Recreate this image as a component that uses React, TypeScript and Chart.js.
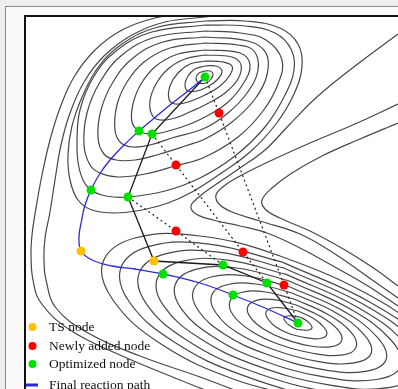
import React, { useEffect, useRef } from 'react';
import { Chart, registerables } from 'chart.js';
Chart.register(...registerables);

type P = [number, number];

// Nodes (plot coordinates)
const tsNodes: P[] = [[81, 251], [154, 261]];
const newNodes: P[] = [[219, 113], [176, 165], [176, 231], [243, 252], [284, 285]];
const optNodes: P[] = [[205, 77], [139, 131], [152, 134], [91, 190], [128, 197], [223, 265], [267, 283], [233, 295], [163, 274], [298, 323]];

// Paths
const finalPath: P[] = [[205, 77], [188, 91], [170, 105], [152, 120], [139, 131], [124, 145], [110, 160], [99, 175], [91, 190], [85, 205], [81.5, 221], [79, 237], [81, 251], [92, 260], [112, 266], [135, 269], [163, 274], [200, 283], [233, 295], [265, 308], [298, 323]];
const stringPath: P[] = [[205, 77], [152, 134], [128, 197], [154, 261], [223, 265], [267, 283], [298, 323]];
const dottedA: P[] = [[205, 77], [219, 113], [284, 285], [298, 323]];
const dottedB: P[] = [[152, 134], [176, 165], [243, 252], [267, 283]];
const dottedC: P[] = [[128, 197], [176, 231], [223, 265]];

// Contour lines of the upper basin
const c1: P[] = [[205, 71], [199, 73], [196, 78], [199, 83], [206, 83], [211, 79], [213, 74], [210, 71], [205, 71]];
const c2: P[] = [[205, 66], [195, 69], [188, 76], [185, 85], [188, 91], [197, 91], [209, 86], [218, 79], [222, 71], [216, 66], [205, 66]];
const c3: P[] = [[205, 61], [190, 64], [178, 73], [170, 86], [169, 99], [175, 104], [188, 102], [205, 95], [220, 86], [230, 75], [232, 66], [223, 62], [205, 61]];
const c4: P[] = [[205, 55], [185, 59], [168, 69], [156, 84], [150, 101], [152, 115], [160, 120], [175, 118], [192, 111], [205, 105], [225, 93], [238, 79], [241, 65], [232, 57], [205, 55]];
const c5: P[] = [[205, 50], [178, 54], [156, 66], [141, 84], [133, 104], [132, 122], [139, 131], [152, 134], [172, 130], [190, 124], [205, 117], [227, 103], [243, 84], [250, 65], [240, 53], [205, 50]];
const c6: P[] = [[205, 43], [170, 48], [144, 62], [127, 82], [117, 105], [115, 130], [121, 143], [133, 147], [150, 145], [172, 138], [205, 128], [228, 113], [247, 93], [258, 70], [254, 51], [238, 45], [205, 43]];
const c7: P[] = [[205, 37], [163, 42], [133, 58], [113, 82], [101, 110], [98, 138], [104, 154], [116, 160], [135, 160], [160, 154], [185, 146], [205, 139], [232, 122], [255, 99], [267, 75], [266, 53], [248, 41], [205, 37]];
const c8: P[] = [[205, 31], [156, 37], [122, 55], [100, 82], [87, 113], [84, 145], [90, 165], [100, 173], [118, 177], [145, 174], [175, 166], [205, 157], [238, 137], [263, 111], [278, 84], [282, 60], [266, 40], [240, 33], [205, 31]];
const c9: P[] = [[205, 25], [152, 32], [116, 51], [93, 78], [80, 110], [77, 140], [78, 162], [83, 180], [91, 190], [106, 196], [128, 197], [165, 191], [200, 178], [235, 156], [265, 127], [284, 97], [294, 70], [291, 49], [275, 33], [245, 26], [205, 25]];
const c10: P[] = [[205, 21], [158, 27], [122, 44], [99, 66], [83, 95], [72, 126], [68, 155], [70, 180], [78, 200], [92, 210], [115, 213], [142, 210], [168, 203], [192, 192], [220, 174], [250, 152], [276, 124], [294, 94], [302, 66], [298, 44], [280, 28], [245, 21], [205, 21]];

// Contour lines of the lower basin
const d1: P[] = [[300, 317], [307, 321], [311, 325], [312, 328], [309, 330], [303, 330], [296, 329], [289, 325], [285, 321], [284, 318], [287, 316], [293, 316], [300, 317]];
const d2: P[] = [[298, 311], [314.4, 318.9], [324.1, 327.5], [326.7, 334.7], [320.1, 338.5], [307.4, 337.9], [290, 334], [276, 327], [268, 319], [266, 312], [272, 308], [283, 308], [298, 311]];
const d3: P[] = [[296, 305], [321.2, 316.7], [337.8, 329.7], [341.7, 340.7], [331.7, 346.6], [310.5, 346], [283.9, 338.9], [263.5, 329], [250.3, 317.2], [247.7, 306.7], [256.4, 300.3], [274.2, 299.7], [296, 305]];
const d4: P[] = [[294, 299], [328, 314.5], [351.2, 332.4], [356.1, 347.1], [343.2, 354.9], [314, 353.5], [278, 344], [251, 331], [233, 315], [230, 301], [241, 292.5], [265, 292], [294, 299]];
const d5: P[] = [[292, 293], [335.4, 312.4], [364.3, 334.9], [371.3, 353.3], [354.3, 362.9], [317.4, 361.4], [272, 349], [238, 333], [216, 313], [211.5, 295.5], [226, 285], [256, 284], [292, 293]];
const d6: P[] = [[290, 287], [342.8, 310.8], [377.4, 337.4], [386.1, 359.5], [365.4, 371.4], [321.8, 369.3], [266, 354], [225, 334.5], [198.6, 311], [193.4, 290], [211, 277], [246, 276], [290, 287]];
const d7: P[] = [[288, 280.5], [349.8, 308.8], [391, 340], [400.9, 365.9], [376.7, 379.5], [325.1, 377.1], [259.7, 359.5], [212.3, 336.3], [181.4, 308.8], [175.3, 284.3], [195.7, 269.3], [237, 268], [288, 280.5]];
const d8: P[] = [[286.3, 274.4], [357, 306.9], [404.3, 342.6], [415.7, 372.2], [388, 387.7], [328.7, 384.9], [253.7, 364.6], [199.4, 338.1], [164.2, 306.7], [157.2, 278.7], [180.5, 261.6], [227.8, 260.1], [286.3, 274.4]];
const d9: P[] = [[284.4, 268.2], [364.2, 304.8], [417.7, 345.2], [430.5, 378.5], [399.3, 396], [332.3, 392.7], [247.6, 369.8], [186.6, 340], [146.9, 304.6], [139.1, 273.1], [165.3, 253.8], [218.5, 252.1], [284.4, 268.2]];
const d10: P[] = [[282.4, 262.1], [371.4, 302.9], [430.9, 347.8], [445.3, 384.8], [410.5, 404.2], [336, 400.5], [241.6, 374.9], [173.8, 341.8], [129.7, 302.5], [121, 267.5], [150.1, 246.1], [209.2, 244.2], [282.4, 262.1]];
const d11: P[] = [[316, 400], [236, 380], [161, 344], [113, 300], [103, 262], [135, 238], [200, 236], [280, 256], [380, 301], [447, 350]];

// Outer and ridge contour lines
const u0: P[] = [[398, 34], [355, 66], [318, 96], [290, 124], [265, 150], [240, 168], [215, 185], [199, 197], [191, 206], [196, 214], [213, 220], [240, 226], [267, 233], [300, 248], [333, 266], [368, 286], [398, 306]];
const b2: P[] = [[240, 12], [205, 17], [165, 22], [132, 35], [104, 56], [84, 82], [70, 113], [61, 145], [55, 180], [50, 212], [45, 238], [44, 260], [46, 280], [56, 308], [88, 333], [140, 356], [200, 377], [245, 394]];
const b1: P[] = [[220, 10], [190, 13], [155, 18], [122, 30], [95, 50], [74, 77], [60, 108], [50, 140], [42, 175], [36, 208], [32, 235], [31, 255], [33, 280], [41, 303], [70, 330], [120, 355], [180, 380], [215, 394]];
const v1: P[] = [[398, 104], [355, 124], [310, 143], [268, 162], [240, 176], [224, 186], [216, 195], [219, 204], [232, 212], [260, 221], [300, 234], [335, 254], [368, 277], [398, 298]];
const v2: P[] = [[398, 123], [360, 139], [322, 156], [292, 173], [272, 188], [262, 200], [265, 209], [280, 218], [310, 231], [345, 250], [375, 269], [398, 286]];

const contours: P[][] = [c1, c2, c3, c4, c5, c6, c7, c8, c9, c10, d1, d2, d3, d4, d5, d6, d7, d8, d9, d10, d11, u0, b1, b2, v1, v2];

const legendLabels = ['TS node', 'Newly added node', 'Optimized node', 'Final reaction path'];
const legendColors = ['#ffc000', '#ff0000', '#00e000', '#2a2ad8'];

const toXY = (pts: P[]) => pts.map(([x, y]) => ({ x, y }));

const framePlugin = {
  id: 'frameAndLegend',
  beforeDatasetsDraw(chart: any) {
    const { ctx, chartArea } = chart;
    ctx.save();
    ctx.fillStyle = '#ffffff';
    ctx.fillRect(chartArea.left, chartArea.top, chartArea.right - chartArea.left, chartArea.bottom - chartArea.top);
    ctx.restore();
  },
  afterDatasetsDraw(chart: any) {
    const { ctx, chartArea } = chart;
    ctx.save();
    ctx.font = '13.5px "Liberation Serif", "Times New Roman", serif';
    ctx.textBaseline = 'middle';
    const x0 = chartArea.left;
    const offsets = [62, 43, 25, 4];
    legendLabels.forEach((label, i) => {
      const y = chartArea.bottom - offsets[i];
      ctx.fillStyle = legendColors[i];
      if (i < 3) {
        ctx.beginPath();
        ctx.arc(x0 + 6.5, y, 4, 0, Math.PI * 2);
        ctx.fill();
      } else {
        ctx.fillRect(x0, y - 1.5, 12, 3);
      }
      ctx.fillStyle = '#111111';
      ctx.fillText(label, x0 + 23, y + 0.5);
    });
    ctx.strokeStyle = '#111111';
    ctx.lineWidth = 2;
    ctx.beginPath();
    ctx.moveTo(chartArea.left - 1, chartArea.bottom + 5);
    ctx.lineTo(chartArea.left - 1, chartArea.top - 1);
    ctx.lineTo(chartArea.right + 5, chartArea.top - 1);
    ctx.stroke();
    ctx.restore();
  },
};

export default function App() {
  const ref = useRef<HTMLCanvasElement | null>(null);
  useEffect(() => {
    document.body.style.margin = '0';
    const canvas = ref.current;
    if (!canvas) return;
    const contourSets = contours.map((pts) => ({
      data: toXY(pts),
      showLine: true,
      pointRadius: 0,
      borderColor: '#474747',
      borderWidth: 1.2,
      tension: 0.4,
      clip: 0,
      order: 10,
    }));
    const chart = new Chart(canvas, {
      type: 'scatter',
      data: {
        datasets: [
          ...contourSets,
          { data: toXY(dottedA), showLine: true, pointRadius: 0, borderColor: '#222', borderWidth: 1.2, borderDash: [2, 3], tension: 0, clip: 0, order: 6 },
          { data: toXY(dottedB), showLine: true, pointRadius: 0, borderColor: '#222', borderWidth: 1.2, borderDash: [2, 3], tension: 0, clip: 0, order: 6 },
          { data: toXY(dottedC), showLine: true, pointRadius: 0, borderColor: '#222', borderWidth: 1.2, borderDash: [2, 3], tension: 0, clip: 0, order: 6 },
          { data: toXY(stringPath), showLine: true, pointRadius: 0, borderColor: '#1a1a1a', borderWidth: 1.3, tension: 0, clip: 0, order: 5 },
          { data: toXY(finalPath), showLine: true, pointRadius: 0, borderColor: legendColors[3], borderWidth: 1.3, tension: 0.4, clip: 0, order: 4 },
          { data: toXY(optNodes), pointRadius: 4.5, pointBackgroundColor: legendColors[2], pointBorderWidth: 0, borderWidth: 0, clip: 0, order: 1 },
          { data: toXY(newNodes), pointRadius: 4.5, pointBackgroundColor: legendColors[1], pointBorderWidth: 0, borderWidth: 0, clip: 0, order: 1 },
          { data: toXY(tsNodes), pointRadius: 4.5, pointBackgroundColor: legendColors[0], pointBorderWidth: 0, borderWidth: 0, clip: 0, order: 1 },
        ] as any,
      },
      options: {
        animation: false,
        responsive: false,
        devicePixelRatio: 1,
        events: [],
        layout: { autoPadding: false, padding: { left: 26, top: 17, right: 0, bottom: 0 } },
        elements: { line: { capBezierPoints: false } },
        plugins: { legend: { display: false }, tooltip: { enabled: false } },
        scales: {
          x: { type: 'linear', min: 26, max: 398, display: false },
          y: { type: 'linear', min: 17, max: 389, reverse: true, display: false },
        },
      },
      plugins: [framePlugin],
    });
    return () => chart.destroy();
  }, []);

  return (
    <div style={{ position: 'relative', width: 398, height: 389, overflow: 'hidden', background: '#eeeeee' }}>
      <div style={{ position: 'absolute', left: 5, top: 6, width: 420, height: 420, borderLeft: '1.5px solid #8a8a8a', borderTop: '1.5px solid #8a8a8a', background: '#fafafa' }} />
      <canvas ref={ref} width={398} height={389} style={{ position: 'absolute', left: 0, top: 0 }} />
    </div>
  );
}
